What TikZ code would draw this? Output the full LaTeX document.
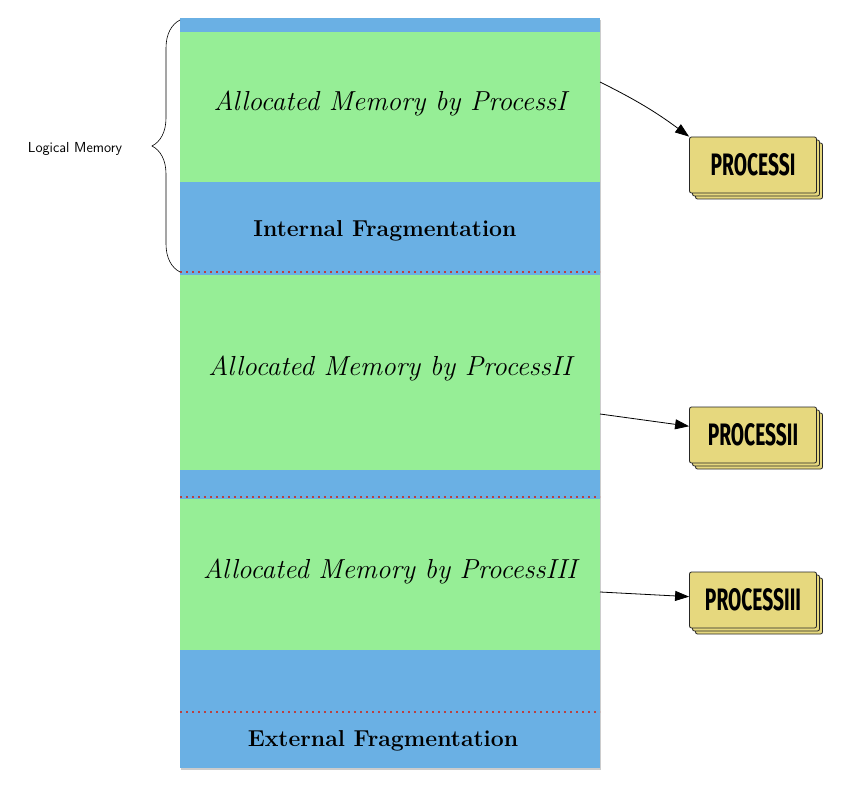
\documentclass[tikz,border=0pt]{standalone}
\usepackage{fontspec}
\newfontfamily\procfont{Fira Sans}
\usetikzlibrary{decorations.pathreplacing,arrows.meta,shadows}
\definecolor{memgreen}{RGB}{150,238,150}
\definecolor{memblue}{RGB}{106,176,228}
\definecolor{procyel}{RGB}{230,216,126}
\definecolor{fragred}{RGB}{185,65,65}
\newcommand\alloc[1]{\fontsize{27.5}{31}\selectfont\itshape Allocated Memory by Process#1}
\newcommand\fragtxt{\fontsize{23}{27}\selectfont\bfseries}
\newcommand\proctxt[1]{\scalebox{0.62}[1]{\fontsize{31}{34}\procfont\bfseries #1}}

\begin{document}
\begin{tikzpicture}[x=1pt,y=1pt,
  procbox/.style={draw=black!85, thick, fill=procyel, rounded corners=2pt,
    minimum width=127pt, minimum height=56pt, inner sep=0pt,
    double copy shadow={shadow xshift=3pt, shadow yshift=-3pt, fill=procyel, draw=black!85}},
  arr/.style={-{Triangle[length=14pt,width=10pt]}, thick},
  fragline/.style={fragred, line width=1.2pt, dash pattern=on 2pt off 4pt}]
\useasboundingbox (0,0) rectangle (843,-794);
% memory column
\fill[memblue, drop shadow={shadow xshift=1pt, shadow yshift=-2pt, opacity=0.4}] (180,-18) rectangle (600,-768);
\fill[memgreen] (180,-32) rectangle (600,-182);
\fill[memgreen] (180,-275) rectangle (600,-470);
\fill[memgreen] (180,-499) rectangle (600,-650);
\foreach\y in{272,497,712} \draw[fragline] (180,-\y)--(600,-\y);
\node (a1) at (390,-103) {\alloc{I}};
\node (a2) at (390,-368) {\alloc{II}};
\node (a3) at (390,-571) {\alloc{III}};
\node (f1) at (385,-231) {\fragtxt Internal Fragmentation};
\node (f2) at (383,-741) {\fragtxt External Fragmentation};
% logical memory brace
\coordinate (btop) at (180,-20);
\coordinate (bbot) at (180,-272);
\draw[semithick, decorate, decoration={brace, amplitude=28pt, aspect=0.5}] (bbot)--(btop);
\node (logic) at (75,-149) {\sffamily\fontsize{14.5}{17}\selectfont Logical Memory};
% processes
\node[procbox] (proc1) at (753,-165) {\proctxt{PROCESSI}};
\node[procbox] (proc2) at (753,-435) {\proctxt{PROCESSII}};
\node[procbox] (proc3) at (753,-600) {\proctxt{PROCESSIII}};
\coordinate (m1) at (600,-82);
\coordinate (m2) at (600,-414);
\coordinate (m3) at (600,-592);
\draw[arr] (m1) to[bend left=5] (proc1.north west);
\draw[arr] (m2)--(proc2);
\draw[arr] (m3)--(proc3);
\end{tikzpicture}
\end{document}
